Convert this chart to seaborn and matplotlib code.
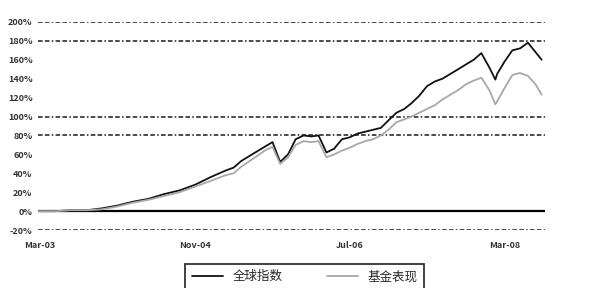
import matplotlib
matplotlib.use("Agg")
import matplotlib.pyplot as plt
import pandas as pd
import seaborn as sns

# values (cumulative return, %)
dates = ["2003-02-25", "2003-05-01", "2003-07-01", "2003-09-01", "2003-11-01",
         "2004-01-01", "2004-03-01", "2004-05-01", "2004-07-01", "2004-09-01",
         "2004-11-01", "2005-01-01", "2005-03-01", "2005-04-01", "2005-05-01",
         "2005-07-01", "2005-08-01", "2005-09-01", "2005-10-01", "2005-11-01",
         "2005-12-01", "2006-01-01", "2006-02-01", "2006-03-01", "2006-04-01",
         "2006-05-01", "2006-06-01", "2006-07-01", "2006-08-01", "2006-09-01",
         "2006-10-01", "2006-11-01", "2006-12-01", "2007-01-01", "2007-02-01",
         "2007-03-01", "2007-04-01", "2007-05-01", "2007-06-01", "2007-07-01",
         "2007-08-01", "2007-09-01", "2007-10-01", "2007-11-01", "2007-12-01",
         "2008-01-01", "2008-01-25", "2008-02-01", "2008-03-01", "2008-04-01",
         "2008-05-01", "2008-06-01", "2008-07-01", "2008-07-25"]
index_ret = [0, 0, 1, 1, 3,
             6, 10, 13, 18, 22,
             28, 36, 43, 46, 53,
             63, 68, 73, 52, 60,
             76, 80, 79, 80, 62,
             66, 76, 78, 82, 84,
             86, 88, 96, 104, 108,
             114, 122, 132, 137, 140,
             145, 150, 155, 160, 167,
             152, 139, 145, 158, 170,
             172, 178, 168, 160]
fund_ret = [0, 0, 1, 1, 2,
            5, 9, 12, 16, 20,
            26, 32, 38, 40, 47,
            58, 64, 68, 50, 57,
            70, 74, 73, 74, 57,
            60, 64, 67, 71, 74,
            76, 80, 86, 94, 97,
            100, 104, 108, 112, 118,
            123, 128, 134, 138, 141,
            128, 113, 116, 130, 144,
            146, 143, 134, 123]
series_names = ["全球指数", "基金表现"]
x_ticks = ["2003-03-01", "2004-11-01", "2006-07-01", "2008-03-01"]
x_ticklabels = ["Mar-03", "Nov-04", "Jul-06", "Mar-08"]
y_ticks = list(range(-20, 201, 20))
grid_levels = [200, 180, 100, 80, -20]

df = pd.DataFrame({"date": pd.to_datetime(dates).tolist() * 2,
                   "ret": index_ret + fund_ret,
                   "series": [series_names[0]] * len(dates) + [series_names[1]] * len(dates)})

sns.set_style("white")
plt.rcParams["font.family"] = ["Noto Sans CJK SC", "DejaVu Sans"]

fig = plt.figure(figsize=(5.93, 2.88), dpi=100)
ax = fig.add_axes([0.064, 0.201, 0.855, 0.723])

# dashed reference lines, only the ones visible in the original
for lv in grid_levels:
    ax.axhline(lv, color="#1a1a1a", lw=1.1, dashes=(3, 1.5, 3, 1.5, 1, 1.5), zorder=0)
ax.axhline(0, color="black", lw=1.6, zorder=1)

sns.lineplot(data=df, x="date", y="ret", hue="series",
             palette=["#111111", "#a8a8a8"], linewidth=1.3, ax=ax)

ax.set_ylim(-20, 200)
ax.set_xlim(pd.Timestamp("2003-02-22"), pd.Timestamp("2008-08-07"))
ax.set_yticks(y_ticks)
ax.set_yticklabels([f"{v}%" for v in y_ticks], fontsize=6.5, fontweight="bold", color="#333333")
ax.set_xticks(pd.to_datetime(x_ticks))
ax.set_xticklabels(x_ticklabels, fontsize=6.5, fontweight="bold", color="#333333")
ax.tick_params(axis="y", length=0, pad=4)
ax.tick_params(axis="x", length=0, pad=8)
ax.set_xlabel("")
ax.set_ylabel("")
for s in ax.spines.values():
    s.set_visible(False)

ax.legend(loc="upper center", bbox_to_anchor=(0.514, 0.105), bbox_transform=fig.transFigure,
          ncol=2, frameon=True, fancybox=False, edgecolor="black", fontsize=9,
          handlelength=2.5, columnspacing=3.5, borderpad=0.5)
ax.get_legend().get_frame().set_linewidth(1.3)

fig.savefig("out.png", dpi=100)
